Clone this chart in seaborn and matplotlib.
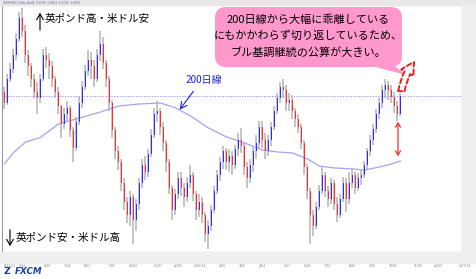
import numpy as np
import pandas as pd
import matplotlib
matplotlib.use('Agg')
import matplotlib.pyplot as plt
import seaborn as sns
from matplotlib.patches import FancyBboxPatch, Polygon, FancyArrowPatch, Rectangle

sns.set_theme(style='white')
plt.rcParams['font.family'] = ['Noto Sans CJK JP', 'DejaVu Sans']

# ---------------- data (GBP/USD, 3-day candles) ----------------
first_open = 1.6220
closes = [1.6150, 1.6300, 1.6360, 1.6450, 1.6550, 1.6680, 1.6600, 1.6450, 1.6380, 1.6300,
          1.6220, 1.6180, 1.6300, 1.6450, 1.6420, 1.6380, 1.6300, 1.6220, 1.6130, 1.6020,
          1.6080, 1.6120, 1.5980, 1.5870, 1.6030, 1.6150, 1.6250, 1.6350, 1.6420, 1.6380,
          1.6300, 1.6450, 1.6520, 1.6400, 1.6300, 1.6150, 1.5980, 1.5850, 1.5780, 1.5650,
          1.5530, 1.5450, 1.5560, 1.5420, 1.5520, 1.5650, 1.5760, 1.5720, 1.5830, 1.5950,
          1.6080, 1.6100, 1.6000, 1.5900, 1.5780, 1.5620, 1.5480, 1.5580, 1.5680, 1.5620,
          1.5560, 1.5650, 1.5700, 1.5580, 1.5480, 1.5530, 1.5450, 1.5330, 1.5380, 1.5480,
          1.5600, 1.5700, 1.5780, 1.5850, 1.5780, 1.5820, 1.5760, 1.5860, 1.5920, 1.5880,
          1.5750, 1.5680, 1.5760, 1.5850, 1.5900, 1.6000, 1.5920, 1.5850, 1.5920, 1.6000,
          1.6100, 1.6180, 1.6250, 1.6230, 1.6150, 1.6170, 1.6100, 1.6050, 1.6000, 1.5900,
          1.5750, 1.5600, 1.5450, 1.5380, 1.5500, 1.5600, 1.5700, 1.5600, 1.5550, 1.5650,
          1.5520, 1.5450, 1.5550, 1.5650, 1.5550, 1.5650, 1.5700, 1.5620, 1.5680, 1.5700,
          1.5760, 1.5850, 1.5920, 1.5990, 1.6080, 1.6150, 1.6230, 1.6260, 1.6230, 1.6190,
          1.6130, 1.6080, 1.6195]
highs = [1.6250, 1.6330, 1.6400, 1.6490, 1.6590, 1.6720, 1.6745, 1.6640, 1.6480, 1.6400,
         1.6330, 1.6280, 1.6330, 1.6490, 1.6500, 1.6460, 1.6410, 1.6320, 1.6250, 1.6140,
         1.6120, 1.6160, 1.6130, 1.6000, 1.6060, 1.6190, 1.6290, 1.6390, 1.6480, 1.6470,
         1.6420, 1.6490, 1.6600, 1.6560, 1.6420, 1.6320, 1.6170, 1.6000, 1.5880, 1.5800,
         1.5680, 1.5560, 1.5600, 1.5580, 1.5550, 1.5680, 1.5800, 1.5820, 1.5860, 1.5990,
         1.6120, 1.6165, 1.6120, 1.6030, 1.5920, 1.5800, 1.5640, 1.5610, 1.5720, 1.5720,
         1.5650, 1.5690, 1.5760, 1.5720, 1.5600, 1.5580, 1.5560, 1.5470, 1.5420, 1.5510,
         1.5630, 1.5730, 1.5810, 1.5880, 1.5870, 1.5860, 1.5850, 1.5890, 1.5960, 1.5995,
         1.5900, 1.5780, 1.5800, 1.5880, 1.5950, 1.6040, 1.6040, 1.5960, 1.5950, 1.6030,
         1.6130, 1.6210, 1.6280, 1.6300, 1.6260, 1.6210, 1.6200, 1.6120, 1.6080, 1.6020,
         1.5920, 1.5770, 1.5620, 1.5480, 1.5530, 1.5640, 1.5750, 1.5720, 1.5630, 1.5680,
         1.5670, 1.5560, 1.5580, 1.5690, 1.5680, 1.5720, 1.5740, 1.5720, 1.5710, 1.5730,
         1.5790, 1.5870, 1.5950, 1.6020, 1.6110, 1.6180, 1.6260, 1.6300, 1.6290, 1.6260,
         1.6220, 1.6160, 1.6210]
lows = [1.6110, 1.6140, 1.6280, 1.6340, 1.6420, 1.6530, 1.6560, 1.6400, 1.6320, 1.6250,
        1.6180, 1.6080, 1.6150, 1.6290, 1.6370, 1.6300, 1.6250, 1.6180, 1.6080, 1.5930,
        1.5990, 1.6040, 1.5940, 1.5780, 1.5850, 1.6010, 1.6120, 1.6230, 1.6320, 1.6300,
        1.6250, 1.6280, 1.6410, 1.6360, 1.6250, 1.6100, 1.5930, 1.5800, 1.5730, 1.5600,
        1.5480, 1.5400, 1.5380, 1.5270, 1.5350, 1.5480, 1.5620, 1.5670, 1.5690, 1.5810,
        1.5930, 1.6030, 1.5950, 1.5850, 1.5720, 1.5580, 1.5420, 1.5450, 1.5550, 1.5570,
        1.5500, 1.5530, 1.5620, 1.5540, 1.5420, 1.5440, 1.5400, 1.5280, 1.5235, 1.5350,
        1.5460, 1.5580, 1.5660, 1.5740, 1.5730, 1.5720, 1.5700, 1.5740, 1.5820, 1.5840,
        1.5700, 1.5620, 1.5650, 1.5720, 1.5800, 1.5870, 1.5870, 1.5800, 1.5820, 1.5880,
        1.5980, 1.6080, 1.6150, 1.6180, 1.6100, 1.6100, 1.6050, 1.6000, 1.5960, 1.5860,
        1.5700, 1.5550, 1.5268, 1.5320, 1.5360, 1.5480, 1.5580, 1.5560, 1.5500, 1.5520,
        1.5480, 1.5406, 1.5430, 1.5530, 1.5470, 1.5520, 1.5620, 1.5580, 1.5600, 1.5640,
        1.5680, 1.5740, 1.5820, 1.5890, 1.5960, 1.6050, 1.6120, 1.6180, 1.6170, 1.6150,
        1.6090, 1.6040, 1.6070]

# 200-day moving average, read at selected candle positions
ma_idx = [0, 3, 7, 12, 18, 25, 32, 38, 45, 52, 57, 62, 68, 74, 80, 86, 91, 96,
          101, 105, 110, 116, 120, 125, 129, 132]
ma_vals = [1.5770, 1.5840, 1.5906, 1.5935, 1.6019, 1.6056, 1.6094, 1.6131, 1.6144,
           1.6150, 1.6120, 1.6069, 1.5994, 1.5938, 1.5900, 1.5856, 1.5844, 1.5838,
           1.5800, 1.5756, 1.5744, 1.5738, 1.5731, 1.5750, 1.5769, 1.5788]

current_price = 1.6195
price_ticks = [round(1.5250 + 0.005 * k, 4) for k in range(30)]
start_monday = '2011-04-11'
n_weeks = 92

callout_lines = ['200日線から大幅に乖離している',
                 'にもかかわらず切り返しているため、',
                 'ブル基調継続の公算が大きい。']
label_up = '英ポンド高・米ドル安'
label_down = '英ポンド安・米ドル高'
label_ma = '200日線'

# ---------------- figure ----------------
W, H = 476, 279
fig = plt.figure(figsize=(W / 100, H / 100), dpi=100)
fig.patch.set_facecolor('white')

# background strips
fig.patches.append(Rectangle((0, 1 - 5 / H), 1, 5 / H, transform=fig.transFigure,
                             color='#e8e8e8', zorder=0))
fig.patches.append(Rectangle((0, 1 - 263 / H), 1, 11 / H, transform=fig.transFigure,
                             color='#efefef', zorder=0))
fig.patches.append(Rectangle((462 / W, 1 - 263 / H), 14 / W, 258 / H, transform=fig.transFigure,
                             color='#efefef', zorder=0))

ax = fig.add_axes([2 / W, 1 - 252 / H, 460 / W, 247 / H])
ax.set_facecolor('white')

df = pd.DataFrame({'close': closes, 'high': highs, 'low': lows})
df['open'] = df['close'].shift(1).fillna(first_open)
df['x'] = np.arange(len(df))
df['up'] = df['close'] >= df['open']

ax.vlines(df['x'], df['low'], df['high'], color='#b4b4b4', lw=1.1, zorder=2)
body = (df['close'] - df['open']).where(lambda s: s.abs() > 0.0003,
                                        np.sign(df['close'] - df['open'] + 1e-9) * 0.0003)
ax.bar(df['x'], body, bottom=df['open'], width=0.55,
       color=np.where(df['up'], '#2b2bff', '#ff2b2b'), linewidth=0, zorder=3)

sns.lineplot(x=ma_idx, y=ma_vals, ax=ax, color='#a3a3f0', lw=0.9, zorder=2.5)

ax.axhline(current_price, color='#8c8cf5', lw=0.7, ls=(0, (1.2, 1.6)), zorder=1.5)

ax.set_xlim(-0.833, 152.5)
ax.set_ylim(1.521875, 1.67625)

# right price axis (the tick nearest the current price is covered by its tag)
ax.yaxis.tick_right()
ax.set_yticks(price_ticks)
ax.set_yticklabels(['' if abs(t - current_price) < 0.0025 else f'{t:.4f}' for t in price_ticks])
ax.tick_params(axis='y', labelsize=2.0, colors='#777777', length=1.2, width=0.5, pad=0.4)
for t in ax.yaxis.get_ticklines():
    t.set_color('#e06a8a')

# bottom date axis (weekly ticks + month row)
mondays = pd.date_range(start_monday, periods=n_weeks, freq='7D')
wk_pos = [5 * k / 3 - 0.33 for k in range(n_weeks)]
ax.set_xticks(wk_pos)
ax.set_xticklabels([f'{d.day:02d}' for d in mondays])
ax.tick_params(axis='x', labelsize=2.5, colors='#777777', length=1.5, width=0.5, pad=0.6)
for t in ax.xaxis.get_ticklines():
    t.set_color('#e06a8a')
for k, d in enumerate(mondays):
    if k == 0:
        lab = f'{d.month}/{d.day:02d}/{d.strftime("%y")}'
    elif d.day <= 7:
        lab = f'{d.month}/{d.day:02d}' + (f'/{d.strftime("%y")}' if d.month == 1 else '')
    else:
        continue
    ax.text(wk_pos[k], -0.045, lab, transform=ax.get_xaxis_transform(), fontsize=2.5,
            color='#777777', ha='left', va='top')

for s in ax.spines.values():
    s.set_color('#9a9a9a')
    s.set_linewidth(0.8)

# current price tag
ax.text(1.002, current_price, f'{current_price:.4f}', transform=ax.get_yaxis_transform(),
        fontsize=2.0, color='#555555', va='center', ha='left',
        bbox=dict(boxstyle='square,pad=0.15', fc='#ffc8d8', ec='#e06a8a', lw=0.4), zorder=5)

# ---------------- overlay in pixel coordinates ----------------
ov = fig.add_axes([0, 0, 1, 1], zorder=10)
ov.set_xlim(0, W)
ov.set_ylim(H, 0)
ov.axis('off')
ov.patch.set_alpha(0)

# header text
ov.text(3, 2.6, 'GBPUSD, Daily (bid)  1.6195  1.6201  1.6152  1.6195', fontsize=2.4,
        color='#5a5a9a', va='center', ha='left')

# up / down labels
ov.annotate('', xy=(40, 10), xytext=(40, 33),
            arrowprops=dict(arrowstyle='->,head_length=0.35,head_width=0.2', color='black', lw=0.8))
ov.text(45, 19, label_up, fontsize=7.6, color='black', va='center', ha='left')
ov.annotate('', xy=(10, 249), xytext=(10, 227),
            arrowprops=dict(arrowstyle='->,head_length=0.35,head_width=0.2', color='black', lw=0.8))
ov.text(16, 238, label_down, fontsize=7.6, color='black', va='center', ha='left')

# 200-day label
ov.text(186, 80, label_ma, fontsize=7.2, color='#2020d8', va='center', ha='left')
ov.annotate('', xy=(178, 112), xytext=(195, 89),
            arrowprops=dict(arrowstyle='->,head_length=0.4,head_width=0.2', color='#2020d8', lw=0.8))

# callout bubble
ov.add_patch(Polygon([(364, 64), (390, 62), (406, 75)], closed=True, fc='#ff99cc', ec='none'))
ov.add_patch(FancyBboxPatch((215, 7), 187, 60, boxstyle='round,pad=0,rounding_size=11',
                            fc='#ff99cc', ec='none'))
for k, line in enumerate(callout_lines):
    ov.text(308, 20 + 16 * k, line, fontsize=8.0, color='black', ha='center', va='center')

# red dashed hollow arrow
ov.add_patch(FancyArrowPatch((401, 94), (416, 60), connectionstyle='arc3,rad=-0.15',
                             arrowstyle='simple,head_width=10,head_length=9,tail_width=4.5',
                             fc='white', ec='#e52020', lw=1.4, ls=(0, (2.5, 1.5)),
                             mutation_scale=1))

# red double-headed arrow
ov.add_patch(FancyArrowPatch((398, 119), (398, 159),
                             arrowstyle='<->,head_length=3,head_width=1.8',
                             color='#e83030', lw=0.9, mutation_scale=1))

# FXCM logo (below the date strip)
ov.text(4, 271.5, 'Z', fontsize=6.8, fontweight='bold', color='#1b3f9e', va='center', ha='left',
        family='DejaVu Sans')
ov.text(15, 271.5, 'FXCM', fontsize=6.3, fontweight='bold', fontstyle='italic', color='#1b3f9e',
        va='center', ha='left', family='DejaVu Sans')

fig.savefig('out.png', dpi=100)
